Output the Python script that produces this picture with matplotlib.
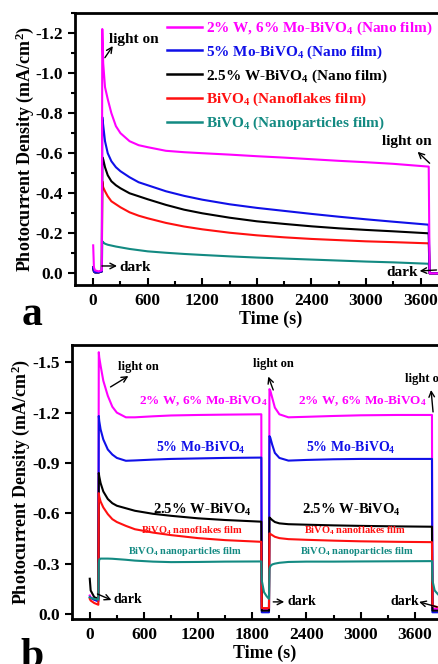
import matplotlib
matplotlib.use("Agg")
import matplotlib.pyplot as plt
from matplotlib.ticker import MultipleLocator

plt.rcParams["font.family"] = "Liberation Serif"
plt.rcParams["font.weight"] = "bold"
plt.rcParams["axes.labelweight"] = "bold"
plt.rcParams["axes.unicode_minus"] = False
plt.rcParams["mathtext.fontset"] = "custom"
plt.rcParams["mathtext.rm"] = "Liberation Serif:bold"
plt.rcParams["mathtext.bf"] = "Liberation Serif:bold"
plt.rcParams["mathtext.default"] = "rm"

PINK, BLUE, BLACK, RED, TEAL = "#ff00ff", "#1010e8", "#000000", "#ff1010", "#138a82"

# ---- panel a: one long light-on period ----
TA = [0, 8, 20, 60, 95, 100, 110, 130, 160, 200, 250, 300, 400, 500, 600, 800,
      1000, 1200, 1500, 1800, 2100, 2400, 2700, 3000, 3300, 3690, 3700, 3720, 4100]
A_PINK = [-0.14, -0.03, -0.015, -0.01, -0.015, -1.22, -1.05, -0.93, -0.87, -0.80,
          -0.735, -0.70, -0.66, -0.64, -0.63, -0.612, -0.605, -0.60, -0.593, -0.585,
          -0.578, -0.57, -0.562, -0.555, -0.547, -0.533, 0.0, 0.0, 0.0]
A_BLUE = [-0.03, -0.01, -0.005, -0.005, -0.01, -0.78, -0.74, -0.66, -0.60, -0.56,
          -0.53, -0.51, -0.48, -0.455, -0.44, -0.41, -0.387, -0.368, -0.345, -0.327,
          -0.312, -0.297, -0.283, -0.27, -0.258, -0.243, 0.0, 0.0, 0.0]
A_BLACK = [-0.03, -0.01, -0.005, -0.005, -0.01, -0.58, -0.57, -0.53, -0.49, -0.46,
           -0.44, -0.425, -0.40, -0.385, -0.37, -0.342, -0.318, -0.30, -0.278, -0.26,
           -0.247, -0.235, -0.225, -0.217, -0.21, -0.20, 0.0, 0.0, 0.0]
A_RED = [-0.03, -0.01, -0.005, -0.005, -0.01, -0.46, -0.43, -0.41, -0.385, -0.36,
         -0.345, -0.33, -0.305, -0.288, -0.275, -0.252, -0.234, -0.22, -0.203, -0.19,
         -0.18, -0.172, -0.166, -0.16, -0.156, -0.15, 0.0, 0.0, 0.0]
A_TEAL = [-0.03, -0.01, -0.005, -0.005, -0.01, -0.16, -0.155, -0.148, -0.143, -0.139,
          -0.134, -0.13, -0.122, -0.116, -0.11, -0.103, -0.097, -0.092, -0.085, -0.079,
          -0.074, -0.069, -0.064, -0.059, -0.055, -0.048, 0.0, 0.0, 0.0]
A_NAMES = ["2% W, 6% Mo-BiVO$_4$ (Nano film)", "5% Mo-BiVO$_4$ (Nano film)",
           "2.5% W-BiVO$_4$ (Nano film)", "BiVO$_4$ (Nanoflakes film)",
           "BiVO$_4$ (Nanoparticles film)"]

# ---- panel b: two light-on periods ----
TB = [0, 10, 50, 95, 100, 105, 120, 150, 200, 250, 300, 400, 500, 700, 900, 1200,
      1500, 1900, 1905, 1930, 1960, 1985, 1990, 2000, 2020, 2050, 2100, 2200, 2400,
      2700, 3000, 3400, 3790, 3795, 3820, 3860, 4100]
B_PINK = [-0.11, -0.10, -0.085, -0.08, -1.56, -1.53, -1.48, -1.39, -1.30, -1.235,
          -1.20, -1.172, -1.172, -1.178, -1.183, -1.186, -1.188, -1.19,
          -0.03, -0.03, -0.03, -0.03,
          -1.34, -1.33, -1.29, -1.23, -1.19, -1.172, -1.175, -1.18, -1.184, -1.186, -1.186,
          -0.03, -0.03, -0.03, -0.03]
B_BLUE = [-0.10, -0.095, -0.085, -0.075, -1.18, -1.15, -1.10, -1.04, -0.98, -0.95,
          -0.93, -0.913, -0.915, -0.92, -0.924, -0.927, -0.93, -0.932,
          -0.01, -0.01, -0.01, -0.01,
          -1.06, -1.05, -1.01, -0.96, -0.93, -0.914, -0.918, -0.922, -0.924, -0.924, -0.924,
          -0.01, -0.01, -0.01, -0.01]
B_BLACK = [-0.21, -0.14, -0.10, -0.09, -0.84, -0.82, -0.78, -0.73, -0.685, -0.66,
           -0.645, -0.63, -0.615, -0.597, -0.585, -0.57, -0.56, -0.55,
           -0.02, -0.02, -0.02, -0.02,
           -0.575, -0.57, -0.56, -0.548, -0.54, -0.535, -0.532, -0.528, -0.525, -0.522, -0.52,
           -0.02, -0.02, -0.02, -0.02]
B_RED = [-0.09, -0.08, -0.065, -0.055, -0.72, -0.70, -0.67, -0.635, -0.595, -0.565,
         -0.548, -0.525, -0.505, -0.485, -0.47, -0.452, -0.44, -0.43,
         -0.035, -0.035, -0.035, -0.035,
         -0.48, -0.477, -0.47, -0.46, -0.452, -0.446, -0.442, -0.437, -0.433, -0.43, -0.428,
         -0.05, -0.045, -0.04, -0.01]
B_TEAL = [-0.10, -0.095, -0.09, -0.085, -0.30, -0.325, -0.33, -0.33, -0.33, -0.329,
          -0.327, -0.323, -0.318, -0.312, -0.309, -0.31, -0.312, -0.313,
          -0.20, -0.13, -0.105, -0.09,
          -0.27, -0.285, -0.295, -0.30, -0.305, -0.31, -0.312, -0.312, -0.313, -0.314, -0.315,
          -0.20, -0.14, -0.115, -0.08]
B_NAMES = ["2% W, 6% Mo-BiVO$_4$", "5% Mo-BiVO$_4$", "2.5% W-BiVO$_4$",
           "BiVO$_4$ nanoflakes film", "BiVO$_4$ nanoparticles film"]
COLORS = [PINK, BLUE, BLACK, RED, TEAL]

YLABEL = "Photocurrent Density (mA/cm$^2$)"


def style(ax, yticks, ymin, ymax, xmax):
    ax.set_xlim(-200, xmax)
    ax.set_ylim(ymin, ymax)
    xt = [0, 600, 1200, 1800, 2400, 3000, 3600]
    ax.set_xticks(xt)
    ax.set_xticklabels([str(v) for v in xt], fontweight="bold")
    ax.xaxis.set_minor_locator(MultipleLocator(300))
    ax.set_yticks(yticks)
    ax.set_yticklabels([f"{v:.1f}" for v in yticks], fontweight="bold")
    ax.tick_params(axis="x", which="both", direction="in", width=1.5, labelsize=12.5, pad=6)
    ax.tick_params(axis="x", which="major", length=5)
    ax.tick_params(axis="x", which="minor", length=3)
    ax.tick_params(axis="y", which="both", direction="out", width=1.5, labelsize=12.5)
    ax.tick_params(axis="y", which="major", length=5)
    ax.tick_params(axis="y", which="minor", length=3)
    for s in ax.spines.values():
        s.set_linewidth(2)
    ax.set_xlabel("Time (s)", fontsize=13, fontweight="bold", labelpad=1)
    ax.set_ylabel(YLABEL, fontsize=13, fontweight="bold", labelpad=0)


def note(ax, x, y, s, fs):
    ax.text(x, y, s, fontsize=fs, fontweight="bold", ha="left", va="center")


def arrow(ax, tail, head, lw=1.0):
    ax.annotate("", xy=head, xytext=tail,
                arrowprops=dict(arrowstyle="->", color="black", lw=lw, shrinkA=0, shrinkB=0))


fig = plt.figure(figsize=(4.39, 6.64), dpi=100)

# panel a
axa = fig.add_axes([75 / 439, 1 - 285 / 664, 391 / 439, 272 / 664])
series_a = [A_PINK, A_BLUE, A_BLACK, A_RED, A_TEAL]
lines = []
for vals, c in reversed(list(zip(series_a, COLORS))):
    (ln,) = axa.plot(TA, vals, color=c, lw=1.5)
    lines.append(ln)
lines = lines[::-1]
style(axa, [0.0, -0.2, -0.4, -0.6, -0.8, -1.0, -1.2], 0.058, -1.30, 4100)
axa.yaxis.set_minor_locator(MultipleLocator(0.1))
leg = axa.legend(lines, A_NAMES, loc="upper left", bbox_to_anchor=(0.235, 0.975),
                 frameon=False, prop={"size": 11, "weight": "bold"}, handlelength=2.3,
                 handletextpad=0.25, labelspacing=0.42, borderaxespad=0, borderpad=0)
for txt, c in zip(leg.get_texts(), COLORS):
    txt.set_color(c)
for h in leg.legend_handles:
    h.set_linewidth(1.8)

note(axa, 174, -1.17, "light on", 11)
arrow(axa, (129, -1.077), (216, -1.135))
note(axa, 3172, -0.66, "light on", 11)
arrow(axa, (3700, -0.55), (3568, -0.607))
note(axa, 293, -0.03, "dark", 11)
arrow(axa, (96, -0.037), (262, -0.037))
note(axa, 3227, -0.005, "dark", 11)
arrow(axa, (3776, -0.017), (3590, -0.012))

# panel b
axb = fig.add_axes([71.7 / 439, 1 - 619 / 664, 386 / 439, 274 / 664])
series_b = [B_PINK, B_BLUE, B_BLACK, B_RED, B_TEAL]
for vals, c in zip(series_b, COLORS):
    axb.plot(TB, vals, color=c, lw=1.5)
style(axb, [0.0, -0.3, -0.6, -0.9, -1.2, -1.5], 0.03, -1.603, 4075)

label_pos = [(540, 2308, -1.269, 9.5), (738, 2397, -0.989, 10),
             (705, 2353, -0.62, 10.5), (573, 2375, -0.497, 7.5), (428, 2331, -0.37, 7.5)]
for name, c, (x1, x2, y, fs) in zip(B_NAMES, COLORS, label_pos):
    for x in (x1, x2):
        axb.text(x, y, name, color=c, fontsize=fs, fontweight="bold", ha="left", va="center")

note(axb, 308, -1.472, "light on", 9)
arrow(axb, (230, -1.353), (428, -1.418))
note(axb, 1811, -1.49, "light on", 9)
arrow(axb, (2032, -1.335), (1977, -1.415))
note(axb, 3492, -1.40, "light on", 9)
arrow(axb, (3802, -1.204), (3780, -1.335))
note(axb, 262, -0.089, "dark", 10)
arrow(axb, (85, -0.119), (240, -0.083))
note(axb, 2186, -0.072, "dark", 10)
arrow(axb, (2032, -0.072), (2154, -0.072))
note(axb, 3326, -0.072, "dark", 10)
arrow(axb, (3846, -0.042), (3647, -0.072))

fig.text(22 / 439, 1 - 325 / 664, "a", fontsize=30, fontweight="bold", ha="left", va="baseline")
fig.text(20 / 439, -0.004, "b", fontsize=30, fontweight="bold", ha="left", va="baseline")

fig.savefig("out.png", dpi=100)
